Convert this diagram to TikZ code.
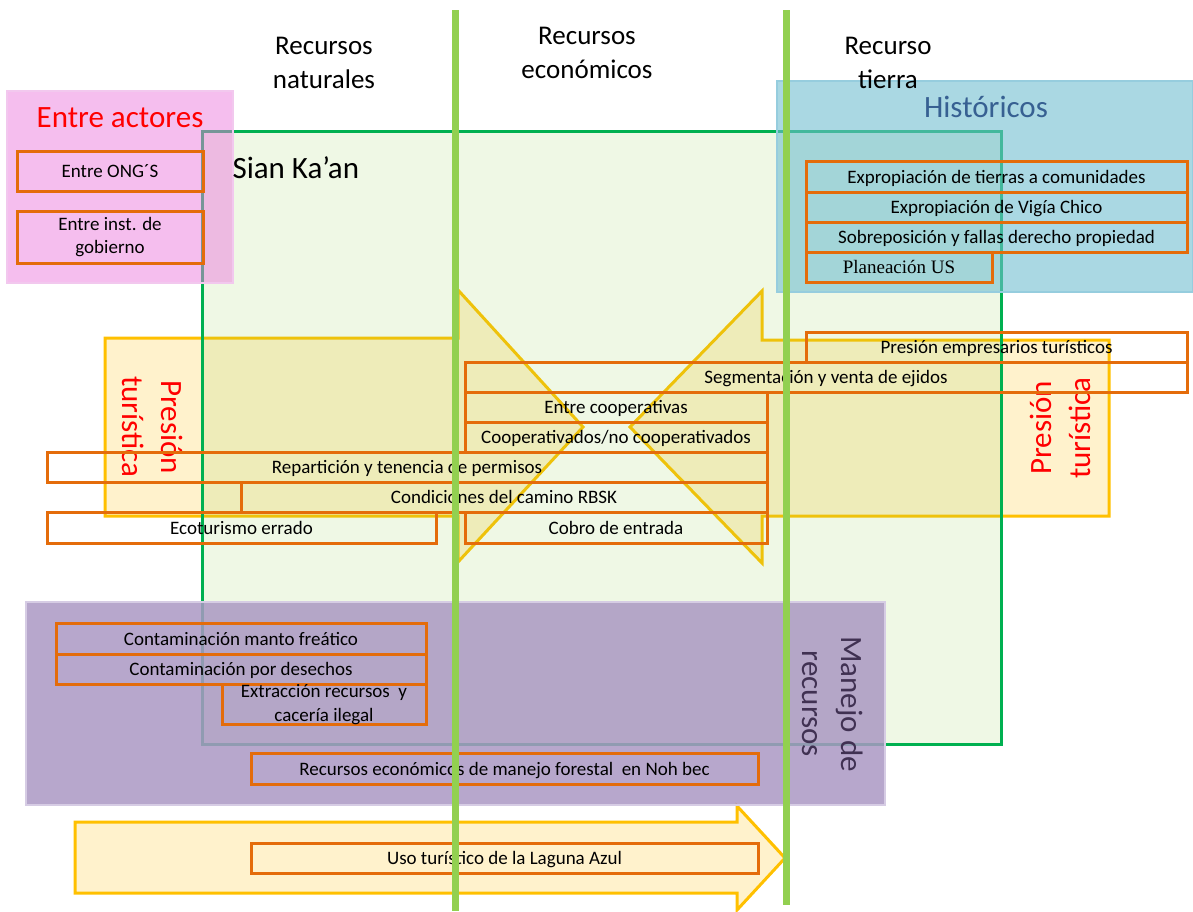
\documentclass[tikz,border=0pt]{standalone}
\usepackage{fontspec}
\setmainfont{Carlito}
\newfontfamily\plfont{Liberation Serif}
\usetikzlibrary{positioning}
\definecolor{boxor}{RGB}{228,108,10}
\definecolor{arrfill}{RGB}{255,242,204}
\definecolor{arrline}{RGB}{255,192,0}
\definecolor{vgreen}{RGB}{146,208,80}
\definecolor{sgreen}{RGB}{0,176,80}
\definecolor{pinkbg}{RGB}{236,126,222}
\definecolor{pinkln}{RGB}{242,200,238}
\definecolor{bluebg}{RGB}{113,190,208}
\definecolor{blueln}{RGB}{150,205,222}
\definecolor{purpbg}{RGB}{170,152,195}
\definecolor{purpln}{RGB}{214,204,228}
\definecolor{histtxt}{RGB}{55,96,146}
\definecolor{mantxt}{RGB}{64,49,82}

\begin{document}
\begin{tikzpicture}[x=1pt,y=-1pt,
    obox/.style={draw=boxor, line width=3pt, outer sep=0pt, inner sep=1pt,
      minimum height=30pt, text height=15.5pt, text depth=2pt,
      font=\fontsize{19}{23}\selectfont},
    hdr/.style={align=center, font=\fontsize{27}{34}\selectfont},
    ttl/.style={align=center, font=\fontsize{31}{39}\selectfont},
    parrow/.style={fill=arrfill, draw=arrline, line width=3pt},
    vline/.style={draw=vgreen, line width=7pt}]
  \useasboundingbox (0,0) rectangle (1193,911);

  \path[parrow] (105,338) -- (458,338) -- (458,290) -- (583,427)
    -- (458,562) -- (458,516) -- (105,516) -- cycle;
  \path[parrow] (1109,340) -- (762,340) -- (762,291) -- (630,427)
    -- (762,563) -- (762,516) -- (1109,516) -- cycle;
  \path[parrow] (75,822) -- (737,822) -- (737,806) -- (785,858)
    -- (737,910) -- (737,893) -- (75,893) -- cycle;

  \fill[vgreen, fill opacity=0.15] (202,131) rectangle (1001,744);
  \draw[sgreen, line width=3pt] (202,131) rectangle (1001,744);
  \path[fill=pinkbg, fill opacity=0.5, draw=pinkln, line width=2pt] (7,91) rectangle (233,283);
  \path[fill=bluebg, fill opacity=0.6, draw=blueln, line width=2pt] (777,81) rectangle (1193,292);
  \path[fill=purpbg, fill opacity=0.85, draw=purpln, line width=2pt] (26,602) rectangle (885,805);

  \node[hdr] (natur) at (324,63) {Recursos\\naturales};
  \node[hdr] (econ) at (587,53) {Recursos\\económicos};
  \node[hdr] (tierra) at (888,63) {Recurso\\tierra};

  \node[ttl, text=red] (actores) at (120,118) {Entre actores};
  \node[ttl, text=histtxt] (hist) at (986,107) {Históricos};
  \node[ttl, anchor=west] (sian) at (229,168) {Sian Ka’an};
  \node[ttl, text=red, rotate=-90] (presl) at (153,427) {Presión\\turística};
  \node[ttl, text=red, rotate=90] (presr) at (1060,428) {Presión\\turística};
  \node[ttl, text=mantxt, rotate=-90] (manejo) at (833,704) {Manejo de\\recursos};

  \node[obox, anchor=north west, minimum width=186pt, minimum height=40pt] (ong) at (17,151) {Entre ONG´S};
  \node[obox, anchor=north west, minimum width=186pt, minimum height=52pt, align=center,
    text height=, text depth=] (inst) at (17,211) {Entre inst. de\\gobierno};

  \node[obox, anchor=north west, minimum width=381pt, minimum height=31pt] (expro) at (806,161) {Expropiación de tierras a comunidades};
  \node[obox, minimum width=381pt, below right=0pt and 0pt of expro.south west] (vigia) {Expropiación de Vigía Chico};
  \node[obox, minimum width=381pt, below right=0pt and 0pt of vigia.south west] (sobre) {Sobreposición y fallas derecho propiedad};
  \node[obox, minimum width=186pt, below right=0pt and 0pt of sobre.south west, font=\fontsize{19}{23}\plfont] (plan) {Planeación US};

  \node[obox, anchor=north west, minimum width=722pt] (segm) at (465,362) {Segmentación y venta de ejidos};
  \node[obox, minimum width=381pt, above left=0pt and 0pt of segm.north east] (empre) {Presión empresarios turísticos};
  \node[obox, minimum width=302pt, below right=0pt and 0pt of segm.south west] (coop) {Entre cooperativas};
  \node[obox, minimum width=302pt, below right=0pt and 0pt of coop.south west] (coopno) {Cooperativados/no cooperativados};
  \node[obox, minimum width=720pt, below left=0pt and 0pt of coopno.south east] (repar) {Repartición y tenencia de permisos};
  \node[obox, minimum width=526pt, below left=0pt and 0pt of repar.south east] (camino) {Condiciones del camino RBSK};
  \node[obox, minimum width=302pt, minimum height=31pt, below left=0pt and 0pt of camino.south east] (cobro) {Cobro de entrada};
  \node[obox, minimum width=389pt, minimum height=31pt, below right=0pt and 0pt of repar.south west, yshift=-30pt] (ecotur) {Ecoturismo errado};

  \node[obox, anchor=north west, minimum width=370pt, minimum height=31pt] (manto) at (56,623) {Contaminación manto freático};
  \node[obox, minimum width=370pt, below right=0pt and 0pt of manto.south west] (desech) {Contaminación por desechos};
  \node[obox, minimum width=204pt, minimum height=40pt, align=center, inner sep=0pt,
    text height=, text depth=, font=\fontsize{19}{24}\selectfont,
    below left=0pt and 0pt of desech.south east] (extr) {Extracción recursos~ y\\cacería ilegal};
  \node[obox, anchor=north west, minimum width=507pt, minimum height=31pt] (forest) at (251,753) {Recursos económicos de manejo forestal~ en Noh bec};
  \node[obox, anchor=north west, minimum width=507pt] (laguna) at (251,843) {Uso turístico de la Laguna Azul};

  \path[vline] (455,10) -- (455,911);
  \path[vline] (786,10) -- (786,905);
\end{tikzpicture}
\end{document}
